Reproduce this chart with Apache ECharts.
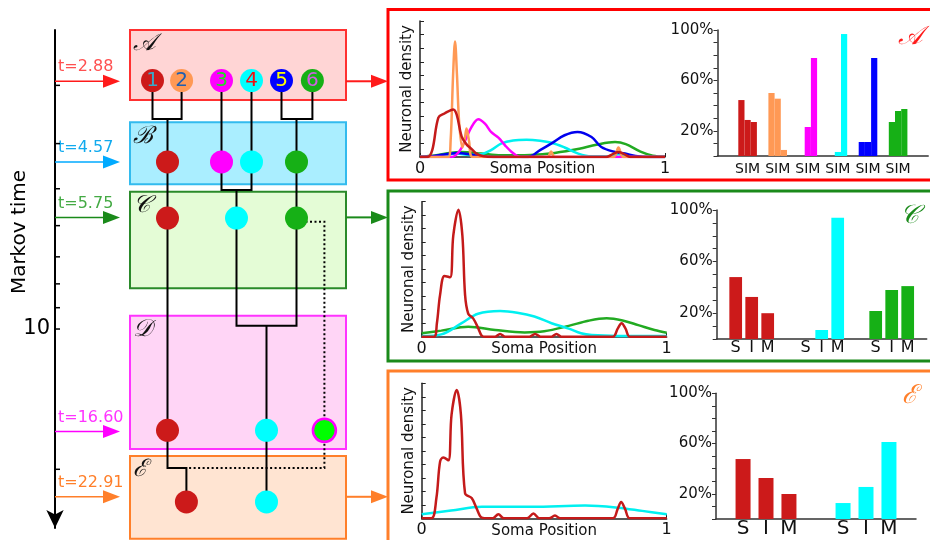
<!DOCTYPE html>
<html><head><meta charset="utf-8">
<script src="https://cdn.jsdelivr.net/npm/echarts@6/dist/echarts.min.js"></script>
<style>html,body{margin:0;padding:0;background:#fff}#c{width:930px;height:540px}</style>
</head><body><div id="c"></div>
<script>
// ---------- data ----------
const clusterColors = ['#cc1a1a','#ff9955','#ff00ff','#00ffff','#0000ff','#16b016','#00ff00'];
const leafLabels = ['1','2','3','4','5','6'];
const leafLabelColors = ['#3aa8c8','#1f5fb0','#22dd22','#ee1111','#ffff00','#d060e0'];
const stageNames = ['𝒜','ℬ','𝒞','𝒟','ℰ'];
const stageTimes = ['2.88','4.57','5.75','16.60','22.91'];
const stageArrowT = [2.94, 4.38, 5.76, 16.6, 22.91];
const stageColors = ['#ff1a1a','#00aaff','#1a8a1a','#ff00ff','#ff7f2a'];
const stageLabelColors = ['#ff5050','#11aaee','#44aa44','#ff33ff','#ff7f2a'];
const boxFill = ['#ffd5d5','#aaeeff','#e4fcd6','#ffd5f6','#ffe4d2'];
const boxStroke = ['#ff3030','#33bbee','#2a8a2a','#ff33ff','#ff7f2a'];
const boxTop = [2.282, 3.601, 5.074, 9.365, 18.73];
const boxBottom = [3.226, 4.892, 8.177, 18.09, 28.2];
const timeTicks = [3,4,5,6,7,8,9,10,20];

const nodeT = [2.93, 4.38, 5.78, 16.5, 23.5];
const nodeStage = [0,0,0,0,0,0, 1,1,1,1, 2,2,2, 3,3,3, 4,4];
const nodeX = [1,1.97,3.3,4.3,5.3,6.33, 1.5,3.3,4.3,5.8, 1.5,3.8,5.8, 1.5,4.8,6.73, 2.13,4.8];
const nodeColorIdx = [0,1,2,3,4,5, 0,2,3,5, 0,3,5, 0,3,6, 0,3];

const solidPaths = [
  [[1,2.93],[1,3.543],[1.97,3.543],[1.97,2.93]],
  [[1.5,3.543],[1.5,4.38]],
  [[3.3,2.93],[3.3,4.38]],
  [[4.3,2.93],[4.3,4.38]],
  [[5.3,2.93],[5.3,3.543],[6.33,3.543],[6.33,2.93]],
  [[5.8,3.543],[5.8,4.38]],
  [[3.3,4.38],[3.3,5.03],[4.3,5.03],[4.3,4.38]],
  [[3.8,5.03],[3.8,5.78]],
  [[1.5,4.38],[1.5,16.5]],
  [[5.8,4.38],[5.8,5.78]],
  [[3.8,5.78],[3.8,9.84],[5.8,9.84],[5.8,5.78]],
  [[4.8,9.84],[4.8,23.5]],
  [[1.5,16.5],[1.5,19.88],[2.13,19.88],[2.13,23.5]]
];
const dottedPaths = [
  [[5.8,5.886],[6.73,5.886],[6.73,16.5]],
  [[6.73,16.5],[6.73,19.88],[2.13,19.88]]
];

const densA_red = [[0,0],[0.03,0],[0.05,0.05],[0.075,0.29],[0.1,0.32],[0.136,0.35],[0.15,0.31],[0.17,0.15],[0.19,0.093],[0.21,0.06],[0.23,0.025],[0.26,0.005],[0.3,0],[0.76,0],[0.79,0.025],[0.81,0.037],[0.83,0.025],[0.86,0],[1,0]];
const densA_orange = [[0,0],[0.115,0],[0.125,0.12],[0.135,0.6],[0.143,0.85],[0.151,0.6],[0.16,0.25],[0.173,0.07],[0.183,0.14],[0.19,0.21],[0.2,0.12],[0.215,0],[0.52,0],[0.535,0.04],[0.55,0],[0.79,0],[0.81,0.07],[0.83,0],[1,0]];
const densA_magenta = [[0,0],[0.13,0],[0.16,0.04],[0.184,0.12],[0.21,0.22],[0.238,0.277],[0.265,0.245],[0.29,0.184],[0.32,0.142],[0.347,0.086],[0.374,0.037],[0.4,0.005],[0.42,0],[1,0]];
const densA_cyan = [[0,0],[0.08,0.005],[0.15,0.025],[0.2,0.015],[0.25,0.02],[0.29,0.05],[0.333,0.1],[0.38,0.122],[0.435,0.127],[0.49,0.12],[0.537,0.105],[0.59,0.07],[0.646,0.025],[0.7,0.005],[0.77,0.005],[0.81,0.02],[0.85,0.003],[1,0]];
const densA_blue = [[0,0],[0.05,0.005],[0.11,0.022],[0.156,0.03],[0.2,0.02],[0.25,0.005],[0.3,0],[0.44,0],[0.49,0.05],[0.537,0.1],[0.59,0.16],[0.643,0.184],[0.7,0.147],[0.74,0.074],[0.796,0.037],[0.837,0.025],[0.88,0.008],[0.93,0],[1,0]];
const densA_green = [[0,0.003],[0.06,0.012],[0.12,0.03],[0.17,0.037],[0.25,0.025],[0.33,0.012],[0.45,0.015],[0.55,0.03],[0.65,0.06],[0.72,0.09],[0.796,0.11],[0.84,0.095],[0.9,0.04],[0.95,0.01],[1,0.003]];

const densC_red = [[0,0],[0.05,0],[0.062,0.1],[0.075,0.31],[0.093,0.45],[0.116,0.44],[0.129,0.75],[0.15,0.94],[0.166,0.75],[0.177,0.31],[0.19,0.17],[0.21,0.136],[0.231,0.062],[0.245,0.007],[0.26,0],[0.3,0],[0.32,0.02],[0.34,0],[0.44,0],[0.463,0.02],[0.485,0],[0.53,0],[0.55,0.02],[0.57,0],[0.78,0],[0.8,0.06],[0.816,0.1],[0.832,0.06],[0.85,0],[1,0]];
const densC_cyan = [[0,0.005],[0.08,0.017],[0.163,0.1],[0.23,0.17],[0.32,0.19],[0.39,0.178],[0.46,0.15],[0.53,0.1],[0.6,0.06],[0.65,0.025],[0.694,0.012],[0.8,0.006],[1,0.006]];
const densC_green = [[0,0.025],[0.08,0.045],[0.19,0.074],[0.3,0.05],[0.42,0.032],[0.5,0.04],[0.6,0.08],[0.68,0.118],[0.755,0.136],[0.82,0.12],[0.884,0.086],[0.95,0.05],[1,0.03]];

const densE_red = [[0,0],[0.04,0],[0.06,0.15],[0.075,0.42],[0.088,0.45],[0.109,0.43],[0.122,0.77],[0.143,0.95],[0.16,0.77],[0.177,0.185],[0.204,0.15],[0.224,0.074],[0.245,0.005],[0.27,0],[0.29,0],[0.313,0.03],[0.335,0],[0.43,0],[0.456,0.035],[0.48,0],[0.52,0],[0.544,0.02],[0.565,0],[0.78,0],[0.8,0.07],[0.814,0.12],[0.83,0.07],[0.85,0],[1,0]];
const densE_cyan = [[0,0.03],[0.12,0.057],[0.245,0.086],[0.45,0.086],[0.667,0.094],[0.8,0.079],[0.9,0.055],[1,0.03]];

const barA_groups = [0,1,2,3,4,5];
const barA_S = [44.4, 50, 0, 0, 11.1, 27];
const barA_I = [28.6, 45.5, 23, 3.2, 11.1, 35.7];
const barA_M = [27, 4.8, 77.8, 96.8, 77.8, 37.3];
const barC_groups = [0,3,5];
const barC_S = [48, 0, 21.7];
const barC_I = [32.6, 7, 38];
const barC_M = [20, 94, 41];
const barE_groups = [0,3];
const barE_S = [47.7, 12.7];
const barE_I = [32.6, 25.5];
const barE_M = [19.9, 61.3];
const pctLabels = [20, 60, 100];

// ---------- chart ----------
const FONT = 'DejaVu Sans';
const XMIN = -2.25, XMAX = 7.45, BOXX0 = 0.25, BOXX1 = 7.45, ARROWTIP = -0.083, PANELX = 8.85;
const chart = echarts.init(document.getElementById('c'), null, {renderer:'canvas'});

const grids = [
  {left:55, top:30, width:291, height:498},
  {left:420, top:21, width:245, height:136},
  {left:717.5, top:30, width:210.7, height:126},
  {left:421.7, top:201.7, width:245, height:135},
  {left:716.7, top:210, width:210, height:129},
  {left:421.7, top:383.3, width:245, height:135},
  {left:716, top:393.3, width:200, height:125.7}
];

function densX(g){ return {gridIndex:g, type:'value', min:0, max:1, interval:1,
  axisLine:{show:true,onZero:false,lineStyle:{color:'#222',width:1.5}},
  axisTick:{show:true,inside:true,length:4,lineStyle:{color:'#222'}},
  splitLine:{show:false},
  axisLabel:{fontSize:16,color:'#111',margin:4,fontFamily:FONT},
  name:'Soma Position', nameLocation:'middle', nameGap:5, nameMoveOverlap:false,
  nameTextStyle:{fontSize:15,color:'#111',fontFamily:FONT}}; }
function densY(g){ return {gridIndex:g, type:'value', min:0, max:1, interval:0.1,
  axisLine:{show:true,onZero:false,lineStyle:{color:'#222',width:1.5}},
  axisTick:{show:true,inside:true,length:4,lineStyle:{color:'#222'}},
  splitLine:{show:false}, axisLabel:{show:false},
  name:'Neuronal density', nameLocation:'middle', nameGap:5, nameRotate:90, nameMoveOverlap:false,
  nameTextStyle:{fontSize:15,color:'#111',fontFamily:FONT}}; }
function barY(g){ return {gridIndex:g, type:'value', min:0, max:100, interval:10,
  axisLine:{show:true,onZero:false,lineStyle:{color:'#333',width:1.5}},
  axisTick:{show:true,length:4,lineStyle:{color:'#333'}},
  splitLine:{show:false},
  axisLabel:{formatter:v=>pctLabels.includes(Math.round(v))?Math.round(v)+'%':'',fontSize:15,color:'#111',margin:4,fontFamily:FONT}}; }

const xAxis = [
  {gridIndex:0,type:'value',min:XMIN,max:XMAX,show:false},
  densX(1),
  {gridIndex:2,type:'category',data:['','1','2','3','4','5','6',''],boundaryGap:false,
    axisTick:{show:false},axisLine:{lineStyle:{color:'#333',width:1.5}},
    axisLabel:{interval:0,formatter:v=>v?'SIM':'',fontSize:14,color:'#111',margin:6,fontFamily:FONT}},
  densX(3),
  {gridIndex:4,type:'category',data:barC_groups.map(String),
    axisTick:{show:false},axisLine:{lineStyle:{color:'#333',width:1.5}},axisLabel:{show:false}},
  densX(5),
  {gridIndex:6,type:'category',data:barE_groups.map(String),
    axisTick:{show:false},axisLine:{lineStyle:{color:'#333',width:1.5}},axisLabel:{show:false}}
];
const yAxis = [
  {gridIndex:0,type:'log',logBase:10,inverse:true,min:2.282,max:26.73,
    axisLine:{show:true,onZero:false,lineStyle:{color:'#000',width:2},symbol:['arrow','none'],symbolSize:[13,18]},
    axisTick:{show:false},splitLine:{show:false},minorTick:{show:false},
    axisLabel:{formatter:v=>Math.abs(v-10)<1e-6?'10':'',fontSize:21,color:'#000',margin:5,fontFamily:FONT}},
  densY(1), barY(2), densY(3), barY(4), densY(5), barY(6)
];

const series = [];
// boxes
series.push({type:'custom', xAxisIndex:0, yAxisIndex:0, z:1, clip:false, silent:true,
  data: boxTop.map((t,i)=>[BOXX0, t, BOXX1, boxBottom[i]]),
  encode:{x:[0,2], y:[1,3]},
  renderItem:(p,api)=>{
    const i=p.dataIndex;
    const a=api.coord([api.value(0),api.value(1)]), b=api.coord([api.value(2),api.value(3)]);
    return {type:'group',children:[
      {type:'rect',shape:{x:a[0],y:a[1],width:b[0]-a[0],height:b[1]-a[1]},style:{fill:boxFill[i],stroke:boxStroke[i],lineWidth:2}},
      {type:'text',x:a[0]+3,y:a[1]+2,style:{text:stageNames[i],font:'italic 24px "DejaVu Serif", serif',fill:'#111',align:'left',verticalAlign:'top'}}
    ]};
  }});
// time axis ticks
series.push({type:'custom', xAxisIndex:0, yAxisIndex:0, z:5, clip:false, silent:true,
  data: timeTicks.map(v=>[XMIN,v]),
  renderItem:(p,api)=>{const c=api.coord([api.value(0),api.value(1)]);
    return {type:'line',shape:{x1:c[0],y1:c[1],x2:c[0]+5,y2:c[1]},style:{stroke:'#000',lineWidth:1.5}};}});
// arrows
function arrowRender(withLabel, lw){
  return (p,api)=>{
    const i=api.value(3);
    const a=api.coord([api.value(0),api.value(2)]), b=api.coord([api.value(1),api.value(2)]);
    const hl=17, hw=6.5, col=stageColors[i];
    const ch=[
      {type:'line',shape:{x1:a[0],y1:a[1],x2:b[0]-hl+2,y2:b[1]},style:{stroke:col,lineWidth:lw}},
      {type:'polygon',shape:{points:[[b[0],b[1]],[b[0]-hl,b[1]-hw],[b[0]-hl,b[1]+hw]]},style:{fill:col}}
    ];
    if(withLabel) ch.push({type:'text',x:a[0]+3,y:a[1]-14,style:{text:'t='+stageTimes[i],fontSize:16,fontFamily:FONT,fill:stageLabelColors[i],align:'left',verticalAlign:'middle'}});
    return {type:'group',children:ch};
  };
}
series.push({type:'custom', xAxisIndex:0, yAxisIndex:0, z:4, clip:false, silent:true,
  data: stageArrowT.map((t,i)=>[XMIN, ARROWTIP, t, i]), renderItem: arrowRender(true,1.5)});
series.push({type:'custom', xAxisIndex:0, yAxisIndex:0, z:4, clip:false, silent:true,
  data: [0,2,4].map(i=>[BOXX1, PANELX, stageArrowT[i], i]), renderItem: arrowRender(false,2)});
// edges
function pathRender(paths, dash){
  return (p,api)=>{
    const pts=paths[p.dataIndex].map(q=>api.coord(q));
    return {type:'polyline',shape:{points:pts},style:{stroke:'#000',lineWidth:2,fill:null,lineDash:dash}};
  };
}
series.push({type:'custom', xAxisIndex:0, yAxisIndex:0, z:2, clip:false, silent:true,
  data: solidPaths.map((_,i)=>[i]), renderItem: pathRender(solidPaths,null)});
series.push({type:'custom', xAxisIndex:0, yAxisIndex:0, z:2, clip:false, silent:true,
  data: dottedPaths.map((_,i)=>[i]), renderItem: pathRender(dottedPaths,[2,2.5])});
// nodes
series.push({type:'scatter', xAxisIndex:0, yAxisIndex:0, z:3, silent:true, symbol:'circle', symbolSize:23,
  data: nodeX.map((x,i)=>{
    const s=nodeStage[i], c=nodeColorIdx[i];
    const item={value:[x,nodeT[s]], itemStyle:{color:clusterColors[c],opacity:1}};
    if(c===6) item.itemStyle={color:clusterColors[6],borderColor:'#ff00ff',borderWidth:2.5,opacity:1};
    item.label = s===0 ? {show:true,position:'inside',formatter:leafLabels[i],color:leafLabelColors[i],fontSize:20,fontFamily:FONT} : {show:false};
    return item;
  })});
// density lines
function dens(g, data, color){ return {type:'line', xAxisIndex:g, yAxisIndex:g, data, smooth:0.35, symbol:'none', showSymbol:false, silent:true, lineStyle:{width:2.5,color}, z:3}; }
series.push(dens(1,densA_green,'#22aa22'), dens(1,densA_cyan,'#00f0f0'), dens(1,densA_blue,'#0000ee'), dens(1,densA_magenta,'#ff00ff'), dens(1,densA_orange,'#ff9955'), dens(1,densA_red,'#c41a1a'));
series.push(dens(3,densC_green,'#22aa22'), dens(3,densC_cyan,'#00f0f0'), dens(3,densC_red,'#c41a1a'));
series.push(dens(5,densE_cyan,'#00f0f0'), dens(5,densE_red,'#c41a1a'));
// bars
function bars(g, groups, vals, pad, width, gap, letter, fs, dist){
  const d = pad ? ['-', ...vals, '-'] : vals;
  const s = {type:'bar', xAxisIndex:g, yAxisIndex:g, data:d, barWidth:width, barGap:gap, silent:true,
    itemStyle:{color:(p)=>clusterColors[groups[pad?p.dataIndex-1:p.dataIndex]]}};
  if(letter) s.label={show:true,position:'bottom',distance:dist,formatter:letter,fontSize:fs,color:'#111',fontFamily:FONT};
  return s;
}
series.push(bars(2,barA_groups,barA_S,true,6.2,'0%'), bars(2,barA_groups,barA_I,true,6.2,'0%'), bars(2,barA_groups,barA_M,true,6.2,'0%'));
series.push(bars(4,barC_groups,barC_S,false,12.7,'26%','S',16,1), bars(4,barC_groups,barC_I,false,12.7,'26%','I',16,1), bars(4,barC_groups,barC_M,false,12.7,'26%','M',16,1));
series.push(bars(6,barE_groups,barE_S,false,15,'53%','S',20,0), bars(6,barE_groups,barE_I,false,15,'53%','I',20,0), bars(6,barE_groups,barE_M,false,15,'53%','M',20,0));

const graphic = [
  {type:'rect',shape:{x:388,y:9.5,width:600,height:170.5},style:{fill:'rgba(0,0,0,0)',stroke:'#ff0000',lineWidth:3},silent:true,z:0},
  {type:'rect',shape:{x:388,y:191,width:600,height:170},style:{fill:'rgba(0,0,0,0)',stroke:'#1a8a1a',lineWidth:3},silent:true,z:0},
  {type:'rect',shape:{x:388,y:371,width:600,height:200},style:{fill:'rgba(0,0,0,0)',stroke:'#ff7f2a',lineWidth:3},silent:true,z:0},
  {type:'text',x:898,y:24,style:{text:stageNames[0],font:'italic 26px "DejaVu Serif", serif',fill:'#ff1a1a'},silent:true},
  {type:'text',x:900,y:203,style:{text:stageNames[2],font:'italic 26px "DejaVu Serif", serif',fill:'#1a8a1a'},silent:true},
  {type:'text',x:902,y:383,style:{text:stageNames[4],font:'italic 26px "DejaVu Serif", serif',fill:'#ff7f2a'},silent:true},
  {type:'text',x:20,y:232,rotation:Math.PI/2,style:{text:'Markov time',fontSize:20,fontFamily:FONT,fill:'#000',align:'center',verticalAlign:'middle'},silent:true}
];

chart.setOption({animation:false, backgroundColor:'#fff',
  grid: grids.map(g=>Object.assign({outerBoundsMode:'none',containLabel:false},g)),
  xAxis, yAxis, series, graphic});
</script></body></html>
